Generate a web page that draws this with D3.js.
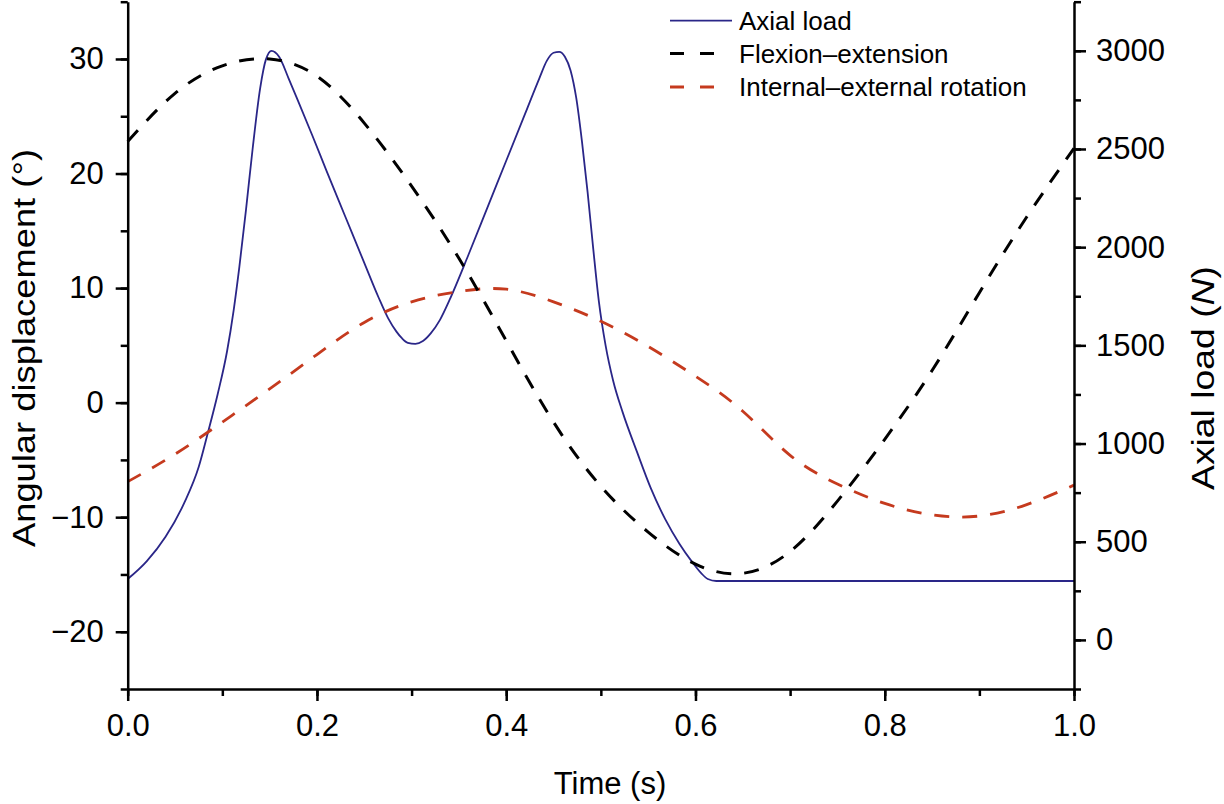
<!DOCTYPE html>
<html><head><meta charset="utf-8">
<script src="https://cdn.jsdelivr.net/npm/d3@7"></script>
<style>
body{margin:0;background:#fff}
svg{display:block}
text{font-family:"Liberation Sans",Arial,Helvetica,sans-serif;fill:#000}
</style>
</head><body>
<svg id="chart" width="1224" height="804"></svg>
<script>
// ---- data ----
const angleTime = [0,0.05,0.10,0.15,0.20,0.25,0.30,0.35,0.40,0.45,0.50,0.55,0.60,0.65,0.70,0.75,0.80,0.85,0.90,0.95,1.00];
const flexionExtension = [22.8,27.0,29.4,30.0,28.5,24.4,18.9,12.6,5.4,-1.7,-7.3,-11.3,-14.1,-14.9,-13.0,-8.6,-3.2,2.8,9.6,16.2,22.2];
const internalExternal = [-6.9,-4.5,-1.7,1.2,4.2,7.0,8.8,9.7,9.9,8.8,7.1,4.9,2.3,-0.75,-4.6,-7.1,-8.8,-9.8,-9.9,-8.9,-7.2];

const loadTime = [0,0.02,0.04,0.06,0.075,0.085,0.095,0.105,0.112,0.118,0.125,0.132,0.14,0.146,0.152,0.16,0.17,0.18,0.195,0.21,0.23,0.25,0.265,0.275,0.284,0.29,0.296,0.304,0.312,0.32,0.33,0.34,0.36,0.38,0.40,0.42,0.435,0.443,0.45,0.456,0.462,0.468,0.474,0.48,0.486,0.492,0.498,0.505,0.513,0.523,0.538,0.553,0.568,0.583,0.596,0.606,0.613,0.622,1.0];
const axialLoad = [310,400,525,700,880,1060,1250,1470,1680,1900,2190,2500,2810,2955,3000,2970,2860,2745,2570,2390,2155,1920,1745,1640,1570,1535,1513,1508,1522,1560,1630,1730,1960,2200,2440,2680,2860,2950,2990,2995,2970,2900,2760,2540,2280,1990,1720,1500,1320,1160,960,770,615,490,400,340,310,300,300];

const xTicks = [0,0.2,0.4,0.6,0.8,1.0];
const xMinorTicks = [0,0.1,0.2,0.3,0.4,0.5,0.6,0.7,0.8,0.9,1.0];
const leftTicks = [-20,-10,0,10,20,30];
const leftMinorTicks = [-25,-20,-15,-10,-5,0,5,10,15,20,25,30,35];
const rightTicks = [0,500,1000,1500,2000,2500,3000];
const rightMinorTicks = [-250,0,250,500,750,1000,1250,1500,1750,2000,2250,2500,2750,3000,3250];

const legendLabels = ["Axial load","Flexion\u2013extension","Internal\u2013external rotation"];

// ---- layout ----
const L = 127.7, R = 1074, T = 1.7, B = 689;
const blue = "#2a2688", red = "#c53a1e", black = "#000";
const svg = d3.select("#chart");

const x = d3.scaleLinear().domain([0,1]).range([L,R]);
const yL = d3.scaleLinear().domain([-25,35]).range([B,T]);
const yR = d3.scaleLinear().domain([-250,3250]).range([B,T]);

// ---- curves ----
const lineLoad = d3.line().x((d,i)=>x(loadTime[i])).y(d=>yR(d)).curve(d3.curveMonotoneX);
const lineAng = d3.line().x((d,i)=>x(angleTime[i])).y(d=>yL(d)).curve(d3.curveNatural);

svg.append("path").attr("d", lineLoad(axialLoad))
  .attr("fill","none").attr("stroke",blue).attr("stroke-width",1.8);
svg.append("path").attr("d", lineAng(internalExternal))
  .attr("fill","none").attr("stroke",red).attr("stroke-width",2.8).attr("stroke-dasharray","15,13");
svg.append("path").attr("d", lineAng(flexionExtension))
  .attr("fill","none").attr("stroke",black).attr("stroke-width",3).attr("stroke-dasharray","15,13");

// ---- axes ----
function styleAxis(g){
  g.selectAll("path,line").attr("stroke","#000").attr("stroke-width",2.5);
  g.selectAll("text").style("font-size","31px").attr("fill","#000");
}
const gx = svg.append("g").attr("transform",`translate(0,${B})`);
gx.call(d3.axisBottom(x).tickValues(xMinorTicks).tickSize(7).tickFormat("").tickSizeOuter(0));
gx.select(".domain").remove();
const gx2 = svg.append("g").attr("transform",`translate(0,${B})`)
  .call(d3.axisBottom(x).tickValues(xTicks).tickSize(12).tickPadding(13).tickSizeOuter(0).tickFormat(d3.format(".1f")));
styleAxis(gx); styleAxis(gx2);

const gl = svg.append("g").attr("transform",`translate(${L},0)`);
gl.call(d3.axisLeft(yL).tickValues(leftMinorTicks).tickSize(7).tickFormat("").tickSizeOuter(0));
gl.select(".domain").remove();
const gl2 = svg.append("g").attr("transform",`translate(${L},0)`)
  .call(d3.axisLeft(yL).tickValues(leftTicks).tickSize(12).tickPadding(12).tickSizeOuter(0));
styleAxis(gl); styleAxis(gl2);

const gr = svg.append("g").attr("transform",`translate(${R},0)`);
gr.call(d3.axisRight(yR).tickValues(rightMinorTicks).tickSize(7).tickFormat("").tickSizeOuter(0));
gr.select(".domain").remove();
const gr2 = svg.append("g").attr("transform",`translate(${R},0)`)
  .call(d3.axisRight(yR).tickValues(rightTicks).tickSize(12).tickPadding(10).tickSizeOuter(0).tickFormat(d3.format("d")));
styleAxis(gr); styleAxis(gr2);

// ---- axis titles ----
svg.append("text").attr("x",610).attr("y",794).attr("text-anchor","middle")
  .style("font-size","31px").text("Time (s)");
svg.append("text").attr("transform","translate(35,348) rotate(-90)").attr("text-anchor","middle")
  .attr("textLength",398).attr("lengthAdjust","spacingAndGlyphs")
  .style("font-size","31px").text("Angular displacement (\u00b0)");
const rt = svg.append("text").attr("transform","translate(1214,378) rotate(-90)").attr("text-anchor","middle")
  .attr("textLength",224).attr("lengthAdjust","spacingAndGlyphs")
  .style("font-size","31px");
rt.append("tspan").text("Axial load (");
rt.append("tspan").style("font-style","italic").text("N");
rt.append("tspan").text(")");

// ---- legend ----
const legY = [20.7, 53.5, 87];
const legStyles = [
  {c:blue, w:1.8, dash:null, x2:732},
  {c:black, w:3, dash:"14,16", x2:715},
  {c:red, w:2.8, dash:"14,16", x2:715}
];
legendLabels.forEach((lab,i)=>{
  const s = legStyles[i];
  const ln = svg.append("line").attr("x1",670).attr("x2",s.x2).attr("y1",legY[i]).attr("y2",legY[i])
    .attr("stroke",s.c).attr("stroke-width",s.w);
  if (s.dash) ln.attr("stroke-dasharray",s.dash);
  svg.append("text").attr("x",739).attr("y",legY[i]+9.4).style("font-size","26px").text(lab);
});
</script>
</body></html>
